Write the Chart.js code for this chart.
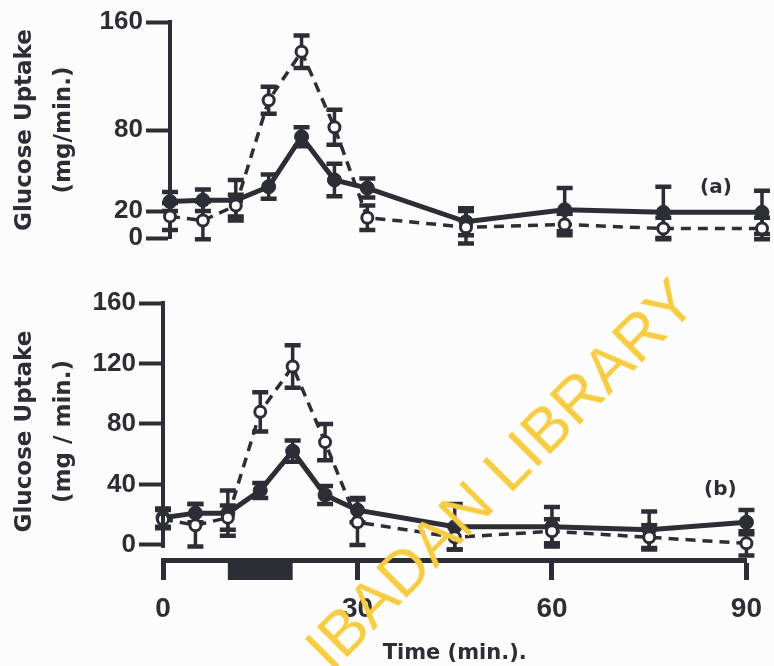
<!DOCTYPE html>
<html>
<head>
<meta charset="utf-8">
<script src="https://cdn.jsdelivr.net/npm/chart.js@4.4.1/dist/chart.umd.min.js"></script>
<style>
  html, body { margin: 0; padding: 0; background: #fcfcfc; }
  #wrap { position: relative; width: 774px; height: 666px; overflow: hidden; background: #fcfcfc; }
  canvas { position: absolute; left: 0; }
  #panelA { top: 0; }
  #panelB { top: 270px; }
  .tag { position: absolute; font: bold 20px "DejaVu Sans", sans-serif; color: #2d2d35; }
  #mark {
    position: absolute; left: 500px; top: 474px;
    transform: translate(-50%, -50%) rotate(-45deg);
    font: 63px "Liberation Sans", Arial, sans-serif; color: #f6cc42;
    white-space: nowrap; line-height: 1; pointer-events: none;
  }
</style>
</head>
<body>
<div id="wrap">
  <canvas id="panelA" width="774" height="260"></canvas>
  <canvas id="panelB" width="774" height="396"></canvas>
  <div class="tag" style="left:700px; top:174px;">(a)</div>
  <div class="tag" style="left:704px; top:476px;">(b)</div>
  <div id="mark">IBADAN LIBRARY</div>
</div>
<script>
// Sampling times (min)
const times = [0, 5, 10, 15, 20, 25, 30, 45, 60, 75, 90];

// Panel (a): glucose uptake, mg/min
const uptakeA_filled = [27, 28, 28, 38, 75, 43, 37, 12, 21, 19, 19];
const errA_filled    = [7, 8, 15, 9, 7, 12, 7, 10, 16, 19, 16];
const uptakeA_open   = [16, 13, 24, 102, 138, 82, 15, 8, 10, 7, 7];
const errA_open      = [10, 14, 8, 10, 12, 13, 9, 12, 8, 8, 8];

// Panel (b): glucose uptake, mg/min
const uptakeB_filled = [18, 21, 21, 36, 62, 33, 23, 12, 12, 10, 15];
const errB_filled    = [6, 6, 15, 5, 7, 6, 8, 15, 13, 12, 8];
const uptakeB_open   = [17, 13, 18, 88, 118, 68, 15, 5, 9, 5, 1];
const errB_open      = [6, 14, 8, 13, 14, 12, 15, 8, 8, 8, 8];

// Axis ticks
const yTicksA = [0, 20, 80, 160];
const yTicksB = [0, 40, 80, 120, 160];
const xTicksB = [0, 30, 60, 90];

// Infusion period shown as a bar under the time axis (min)
const infusion = [10, 20];

const INK = '#2d2d35';

function pts(values) {
  return times.map((t, i) => ({ x: t, y: values[i] }));
}

function filledSeries(values, errs) {
  return {
    data: pts(values), errors: errs,
    borderColor: INK, borderWidth: 5,
    pointRadius: 7, pointBackgroundColor: INK, pointBorderColor: INK,
    pointBorderWidth: 1, clip: false, order: 2
  };
}
function openSeries(values, errs) {
  return {
    data: pts(values), errors: errs,
    borderColor: INK, borderWidth: 3.5, borderDash: [10, 7],
    pointRadius: 5.5, pointBackgroundColor: '#ffffff', pointBorderColor: INK,
    pointBorderWidth: 3, clip: false, order: 1
  };
}

// Vertical error bars with caps, drawn beneath the markers
const errorBars = {
  id: 'errorBars',
  beforeDatasetsDraw(chart) {
    const { ctx, scales: { x, y } } = chart;
    ctx.save();
    ctx.strokeStyle = INK;
    chart.data.datasets.forEach(ds => {
      if (!ds.errors) return;
      ds.data.forEach((p, i) => {
        const e = ds.errors[i];
        const px = x.getPixelForValue(p.x);
        const top = y.getPixelForValue(p.y + e);
        const bot = y.getPixelForValue(p.y - e);
        ctx.lineWidth = 3.5;
        ctx.beginPath(); ctx.moveTo(px, top); ctx.lineTo(px, bot); ctx.stroke();
        ctx.lineWidth = 4.5;
        ctx.beginPath();
        ctx.moveTo(px - 8, top); ctx.lineTo(px + 8, top);
        ctx.moveTo(px - 8, bot); ctx.lineTo(px + 8, bot);
        ctx.stroke();
      });
    });
    ctx.restore();
  }
};

// Y axis line from 0 to 160, plus the infusion bar under the time axis
const axisExtras = {
  id: 'axisExtras',
  afterDraw(chart, args, opts) {
    const { ctx, chartArea, scales: { x, y } } = chart;
    ctx.save();
    ctx.fillStyle = INK;
    ctx.strokeStyle = INK;
    if (opts.yLine) {
      ctx.lineWidth = 4;
      ctx.beginPath();
      ctx.moveTo(chartArea.left, y.getPixelForValue(160) - 2);
      ctx.lineTo(chartArea.left, y.getPixelForValue(0) + 3);
      ctx.stroke();
    }
    if (opts.bar) {
      const x0 = x.getPixelForValue(opts.bar[0]);
      const x1 = x.getPixelForValue(opts.bar[1]);
      ctx.fillRect(x0, chartArea.bottom + 2, x1 - x0, 18);
    }
    ctx.restore();
  }
};

const yTitleFont = { family: 'DejaVu Sans', weight: 'bold', size: 23, lineHeight: 1.72 };
const tickFont = { family: 'Liberation Sans', weight: 'bold', size: 26 };

function yScale(opts) {
  return {
    type: 'linear', min: opts.min, max: 160,
    afterBuildTicks: s => { s.ticks = opts.ticks.map(v => ({ value: v })); },
    afterFit: s => { s.width = opts.width; },
    ticks: { font: tickFont, color: INK, padding: 3 },
    grid: { drawOnChartArea: false, drawTicks: true, tickLength: 24, tickWidth: 4, tickColor: INK },
    border: { display: opts.border, width: 4, color: INK },
    title: { display: true, text: opts.title, font: yTitleFont, color: INK, padding: { top: 1, bottom: 0 } }
  };
}

new Chart(document.getElementById('panelA'), {
  type: 'line',
  data: { datasets: [filledSeries(uptakeA_filled, errA_filled), openSeries(uptakeA_open, errA_open)] },
  options: {
    responsive: false, animation: false, devicePixelRatio: 1,
    layout: { padding: { left: 4, right: 12, top: 22, bottom: 22 } },
    plugins: { legend: { display: false }, tooltip: { enabled: false }, axisExtras: {} },
    scales: {
      x: { type: 'linear', min: 0, max: 90, display: false },
      y: yScale({ min: 0, ticks: yTicksA, width: 166, border: true, title: ['Glucose Uptake', '(mg/min.)'] })
    }
  },
  plugins: [errorBars, axisExtras]
});

new Chart(document.getElementById('panelB'), {
  type: 'line',
  data: { datasets: [filledSeries(uptakeB_filled, errB_filled), openSeries(uptakeB_open, errB_open)] },
  options: {
    responsive: false, animation: false, devicePixelRatio: 1,
    layout: { padding: { left: 4, right: 22, top: 33, bottom: 0 } },
    plugins: { legend: { display: false }, tooltip: { enabled: false }, axisExtras: { yLine: true, bar: infusion } },
    scales: {
      x: {
        type: 'linear', min: 0, max: 90,
        afterBuildTicks: s => { s.ticks = xTicksB.map(v => ({ value: v })); },
        afterFit: s => { s.height = 106; },
        ticks: { font: { family: 'Liberation Sans', weight: 'bold', size: 28 }, color: INK, padding: 12 },
        grid: { drawOnChartArea: false, drawTicks: true, tickLength: 20, tickWidth: 5, tickColor: INK },
        border: { display: true, width: 5, color: INK },
        title: { display: true, text: 'Time (min.).', font: { family: 'DejaVu Sans', weight: 'bold', size: 21 }, color: INK, padding: { top: 0, bottom: 0 } }
      },
      y: yScale({ min: -10, ticks: yTicksB, width: 159, border: false, title: ['Glucose Uptake', '(mg / min.)'] })
    }
  },
  plugins: [errorBars, axisExtras]
});
</script>
</body>
</html>
